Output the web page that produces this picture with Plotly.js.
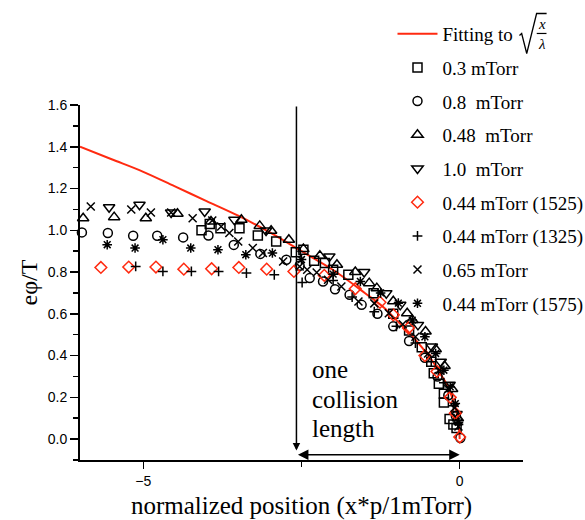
<!DOCTYPE html>
<html>
<head>
<meta charset="utf-8">
<script src="https://cdn.plot.ly/plotly-3.0.1.min.js"></script>
<style>html,body{margin:0;padding:0;background:#fff;}#chart{width:585px;height:520px;}</style>
</head>
<body>
<div id="chart"></div>
<script>
// Fitting curve
const fitX = [-6, -5.5, -5, -4.5, -4, -3.5, -3, -2.5, -2, -1.5, -1.2, -1, -0.8, -0.6, -0.4, -0.3, -0.2, -0.12, -0.06, -0.02, 0];
const fitY = [1.40, 1.34, 1.28, 1.21, 1.14, 1.07, 0.99, 0.90, 0.81, 0.70, 0.63, 0.57, 0.51, 0.44, 0.36, 0.31, 0.26, 0.20, 0.14, 0.08, 0.0];

// 0.3 mTorr (squares)
const s03X = [-4.08, -3.95, -3.78, -3.48, -3.19, -2.90, -2.59, -2.47, -2.30, -2.13, -2.00, -1.76, -1.36, -1.05, -0.80, -0.60, -0.45, -0.41, -0.33, -0.25, -0.25, -0.16, -0.10, -0.05];
const s03Y = [1.00, 1.03, 1.01, 1.01, 0.975, 0.946, 0.895, 0.907, 0.854, 0.843, 0.811, 0.787, 0.699, 0.60, 0.52, 0.44, 0.37, 0.316, 0.265, 0.217, 0.175, 0.096, 0.07, 0.053];

// 0.8 mTorr (circles)
const s08X = [-5.97, -5.56, -5.16, -4.78, -4.37, -3.97, -3.57, -3.15, -2.74, -2.53, -2.37, -2.16, -1.97, -1.74, -1.55, -1.30, -1.05, -0.80, -0.55, -0.35, -0.18, -0.06, 0.01];
const s08Y = [0.99, 0.987, 0.974, 0.974, 0.966, 0.975, 0.93, 0.887, 0.859, 0.83, 0.771, 0.755, 0.718, 0.691, 0.643, 0.60, 0.54, 0.47, 0.39, 0.30, 0.21, 0.11, 0.005];

// 0.48 mTorr (triangles up)
const s048X = [-5.95, -5.46, -4.96, -4.46, -3.93, -3.45, -3.16, -2.98, -2.70, -2.47, -2.21, -1.94, -1.65, -1.43, -1.31, -1.05, -0.83, -0.75, -0.54, -0.38, -0.24, -0.12, -0.03];
const s048Y = [1.058, 1.063, 1.058, 1.079, 1.042, 1.05, 1.021, 0.998, 0.955, 0.91, 0.878, 0.835, 0.80, 0.747, 0.723, 0.66, 0.603, 0.571, 0.515, 0.43, 0.35, 0.24, 0.10];

// 1.0 mTorr (triangles down)
const s10X = [-5.54, -5.06, -4.56, -4.03, -3.56, -3.06, -2.06, -1.51, -1.16, -0.94, -0.66, -0.44, -0.30, -0.16, -0.05];
const s10Y = [1.11, 1.122, 1.085, 1.09, 1.05, 0.999, 0.875, 0.80, 0.699, 0.643, 0.547, 0.443, 0.37, 0.26, 0.12];

// 0.44 mTorr (1525) (red diamonds)
const s1525X = [-5.67, -5.23, -4.80, -4.36, -3.92, -3.49, -3.05, -2.62, -2.14, -1.65, -1.26, -1.05, -0.81, -0.55, -0.36, -0.15, -0.07, 0.0];
const s1525Y = [0.822, 0.824, 0.824, 0.814, 0.816, 0.822, 0.814, 0.803, 0.784, 0.72, 0.655, 0.595, 0.532, 0.40, 0.324, 0.20, 0.124, 0.01];

// 0.44 mTorr (1325) (plus)
const s1325X = [-5.12, -4.69, -4.24, -3.81, -3.37, -2.93, -2.49, -2.00, -1.70, -1.35, -1.00, -0.70, -0.45, -0.25, -0.10, -0.02];
const s1325Y = [0.827, 0.803, 0.803, 0.803, 0.795, 0.787, 0.75, 0.76, 0.68, 0.61, 0.54, 0.46, 0.37, 0.27, 0.16, 0.07];

// 0.65 mTorr (x)
const s065X = [-5.83, -5.19, -4.88, -4.56, -4.22, -3.91, -3.77, -3.64, -3.50, -3.27, -3.11, -2.79, -2.53, -2.41, -2.26, -2.08, -1.87, -1.60, -1.35, -1.12, -0.90, -0.70, -0.50, -0.32, -0.18, -0.08, -0.02];
const s065Y = [1.114, 1.10, 1.085, 1.085, 1.058, 1.047, 1.018, 0.987, 0.946, 0.915, 0.891, 0.851, 0.827, 0.811, 0.798, 0.763, 0.731, 0.659, 0.65, 0.603, 0.55, 0.49, 0.41, 0.33, 0.24, 0.15, 0.06];

// 0.44 mTorr (1575) (asterisk)
const s1575X = [-5.57, -5.13, -4.69, -4.25, -3.82, -3.38, -2.96, -2.50, -2.00, -1.57, -1.25, -0.97, -0.75, -0.55, -0.38, -0.25, -0.15, -0.07, -0.02];
const s1575Y = [0.931, 0.915, 0.955, 0.915, 0.907, 0.883, 0.891, 0.86, 0.79, 0.755, 0.70, 0.651, 0.57, 0.49, 0.41, 0.33, 0.25, 0.17, 0.08];

const seriesNames = ['0.3 mTorr', '0.8 \u00a0mTorr', '0.48 \u00a0mTorr', '1.0 \u00a0mTorr', '0.44 mTorr (1525)', '0.44 mTorr (1325)', '0.65 mTorr', '0.44 mTorr (1575)'];

const RED = '#ff2a10';
const serif = 'Liberation Serif, Times New Roman, serif';

function mk(x, y, name, symbol, size, color, g) {
  return {x: x, y: y, name: name, type: 'scatter', mode: 'markers', legendgroup: g,
    marker: {symbol: symbol, size: size, color: color, line: {color: color, width: 1.5}},
    cliponaxis: false};
}

const data = [
  {x: fitX, y: fitY, name: 'Fitting to', type: 'scatter', mode: 'lines', legendgroup: 'g0',
   line: {color: RED, width: 2, shape: 'spline'}},
  mk(s03X, s03Y, seriesNames[0], 'square-open', 9, '#000', 'g1'),
  mk(s08X, s08Y, seriesNames[1], 'circle-open', 9, '#000', 'g2'),
  mk(s048X, s048Y, seriesNames[2], 'triangle-up-open', 10, '#000', 'g3'),
  mk(s10X, s10Y, seriesNames[3], 'triangle-down-open', 10, '#000', 'g4'),
  mk(s1525X, s1525Y, seriesNames[4], 'diamond-open', 9, RED, 'g5'),
  mk(s1325X, s1325Y, seriesNames[5], 'cross-thin-open', 7, '#000', 'g6'),
  mk(s065X, s065Y, seriesNames[6], 'x-thin-open', 8, '#000', 'g7'),
  mk(s1575X, s1575Y, seriesNames[7], 'asterisk-open', 8, '#000', 'g8')
];

const layout = {
  width: 585, height: 520,
  margin: {l: 80, r: 62, t: 105, b: 60, autoexpand: false},
  paper_bgcolor: '#fff', plot_bgcolor: '#fff',
  showlegend: true,
  legend: {x: 0.7054, y: 1.254, xanchor: 'left', yanchor: 'top', bgcolor: 'rgba(0,0,0,0)',
    font: {family: serif, size: 19, color: '#000'}, tracegroupgap: 6, traceorder: 'grouped',
    itemwidth: 40, maxheight: 1},
  xaxis: {range: [-6, 1], showgrid: false, zeroline: false, showline: true, linewidth: 2, linecolor: '#000',
    ticks: 'outside', ticklen: 7, tickwidth: 1.5, tickcolor: '#000', dtick: 5, tick0: 0,
    minor: {dtick: 2.5, ticks: 'outside', ticklen: 5, tickwidth: 1.5, tickcolor: '#000'},
    tickfont: {family: 'Liberation Sans, Arial, sans-serif', size: 14, color: '#000'},
    title: {text: 'normalized position (x*p/1mTorr)', font: {family: serif, size: 25, color: '#000'}, standoff: 9}},
  yaxis: {range: [-0.1, 1.6], showgrid: false, zeroline: false, showline: true, linewidth: 2, linecolor: '#000',
    ticks: 'outside', ticklen: 8, tickwidth: 1.5, tickcolor: '#000', dtick: 0.2, tick0: 0, tickformat: '.1f',
    minor: {dtick: 0.1, ticks: 'outside', ticklen: 5, tickwidth: 1.5, tickcolor: '#000'},
    tickfont: {family: 'Liberation Sans, Arial, sans-serif', size: 14, color: '#000'},
    title: {text: 'e\u03c6/T', font: {family: serif, size: 24, color: '#000'}, standoff: 3}},
  shapes: [
    // radical sign for the legend formula
    {type: 'path', xref: 'paper', yref: 'paper',
     path: 'M 0.992 1.196 L 0.997 1.2015 L 1.0084 1.145 L 1.0307 1.2578 L 1.0533 1.2578',
     line: {color: '#000', width: 1.3}},
    {type: 'line', xref: 'paper', yref: 'paper', x0: 1.031, x1: 1.053, y0: 1.2015, y1: 1.2015,
     line: {color: '#000', width: 1.2}}
  ],
  annotations: [
    {xref: 'paper', yref: 'paper', x: 1.042, y: 1.229, text: '<i>x</i>', showarrow: false,
     font: {family: serif, size: 15, color: '#000'}, xanchor: 'center', yanchor: 'middle'},
    {xref: 'paper', yref: 'paper', x: 1.042, y: 1.171, text: '<i>\u03bb</i>', showarrow: false,
     font: {family: serif, size: 15, color: '#000'}, xanchor: 'center', yanchor: 'middle'},
    // vertical line with arrow at bottom
    {xref: 'x', yref: 'y', axref: 'x', ayref: 'y', x: -2.58, y: -0.055, ax: -2.58, ay: 1.6,
     text: '', showarrow: true, arrowhead: 2, arrowsize: 1, arrowwidth: 1.5, arrowcolor: '#000'},
    // horizontal double arrow
    {xref: 'x', yref: 'y', axref: 'x', ayref: 'y', x: 0.0, y: -0.075, ax: -2.58, ay: -0.075,
     text: '', showarrow: true, arrowhead: 2, startarrowhead: 2, arrowside: 'end+start', arrowsize: 1.4,
     startarrowsize: 1.4, arrowwidth: 1.5, arrowcolor: '#000'},
    {xref: 'x', yref: 'y', x: -2.36, y: 0.332, text: 'one', showarrow: false, xanchor: 'left', yanchor: 'middle',
     font: {family: serif, size: 25, color: '#000'}},
    {xref: 'x', yref: 'y', x: -2.36, y: 0.188, text: 'collision', showarrow: false, xanchor: 'left', yanchor: 'middle',
     font: {family: serif, size: 25, color: '#000'}},
    {xref: 'x', yref: 'y', x: -2.36, y: 0.050, text: 'length', showarrow: false, xanchor: 'left', yanchor: 'middle',
     font: {family: serif, size: 25, color: '#000'}}
  ]
};

Plotly.newPlot('chart', data, layout, {displayModeBar: false, staticPlot: true});
</script>
</body>
</html>
